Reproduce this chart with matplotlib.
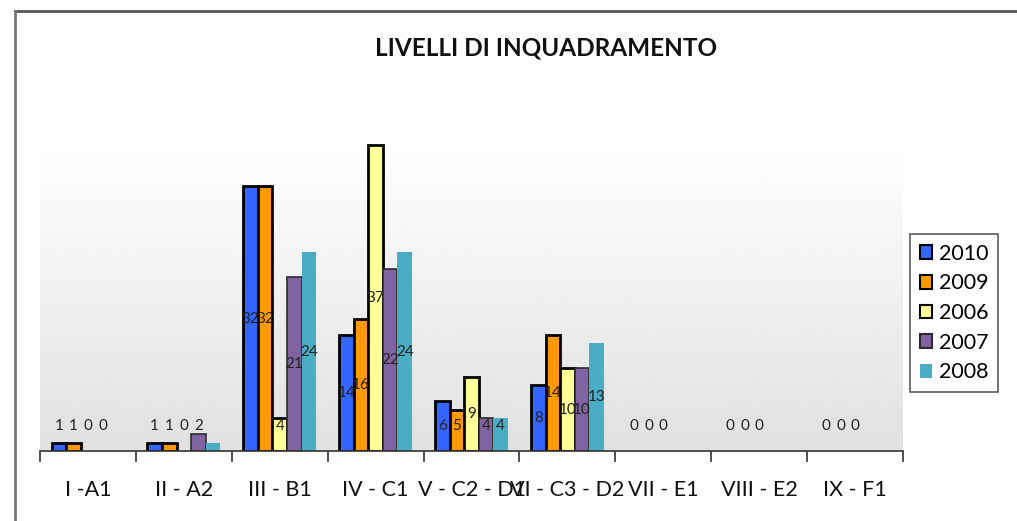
import numpy as np
import matplotlib

matplotlib.use("Agg")
import matplotlib.pyplot as plt
from matplotlib.patches import Patch
from matplotlib.lines import Line2D

plt.rcParams["font.family"] = ["Lato", "DejaVu Sans"]

# ── Data ──────────────────────────────────────────────────────────────────────
categories = ["I -A1", "II - A2", "III - B1", "IV - C1", "V - C2 - D1",
              "VI - C3 - D2", "VII - E1", "VIII - E2", "IX - F1"]
years = ["2010", "2009", "2006", "2007", "2008"]
v2010 = [1, 1, 32, 14, 6, 8, 0, 0, 0]
v2009 = [1, 1, 32, 16, 5, 14, 0, 0, 0]
v2006 = [0, 0, 4, 37, 9, 10, 0, 0, 0]
v2007 = [0, 2, 21, 22, 4, 10, None, None, None]
v2008 = [None, 1, 24, 24, 4, 13, None, None, None]
# labels shown on the chart (None = no label)
lab2008 = [None, None, 24, 24, 4, 13, None, None, None]

series = [v2010, v2009, v2006, v2007, v2008]
labels = [v2010, v2009, v2006, v2007, lab2008]
colors = ["#3366FF", "#FF9900", "#FFFF99", "#8064A2", "#4BACC6"]
edges = [("black", 2.0), ("black", 2.0), ("black", 2.0), ("#2b2b2b", 1.2), ("none", 0)]

# ── Figure ────────────────────────────────────────────────────────────────────
fig = plt.figure(figsize=(10.17, 5.21), dpi=100)
ax = fig.add_axes([40 / 1017, 1 - 451 / 521, 863 / 1017, 311 / 521])

# frame lines (top and left) of the chart object
fig.add_artist(Line2D([15 / 1017, 1], [1 - 11 / 521] * 2, color="#555555", lw=2))
fig.add_artist(Line2D([15 / 1017] * 2, [0, 1 - 11 / 521], color="#777777", lw=2))

ymax = 37.6
n = len(categories)
ax.set_xlim(-0.5, n - 0.5)
ax.set_ylim(0, ymax)

# gradient background
grad = np.linspace(0.88, 1.0, 256).reshape(-1, 1)
ax.imshow(grad, extent=[-0.5, n - 0.5, 0, ymax], origin="lower", aspect="auto",
          cmap="gray", vmin=0, vmax=1, zorder=0)

w = 0.152
x = np.arange(n)
for i, (vals, labs) in enumerate(zip(series, labels)):
    ec, lw = edges[i]
    xs = x + (i - 2) * w
    for xi, v, lab in zip(xs, vals, labs):
        if v is not None and v > 0:
            ax.bar(xi, v, width=w, color=colors[i], edgecolor=ec, linewidth=lw, zorder=2)
        if lab is not None:
            ax.text(xi, max(lab / 2, 3), str(lab), ha="center", va="center",
                    fontsize=11, color="#222222", zorder=3)

# axes styling
for s in ["top", "right", "left"]:
    ax.spines[s].set_visible(False)
ax.spines["bottom"].set_color("#333333")
ax.spines["bottom"].set_linewidth(1.2)
ax.set_yticks([])
ax.set_xticks(np.arange(n + 1) - 0.5, minor=False)
ax.set_xticklabels([])
ax.tick_params(axis="x", direction="out", length=8, width=1.2, color="#333333")
for xi, c in zip(x, categories):
    ax.text(xi, -39 / 311 * ymax, c, ha="center", va="center", fontsize=15.5,
            color="#111111", clip_on=False)

fig.text(546 / 1017, 1 - 48 / 521, "LIVELLI DI INQUADRAMENTO", ha="center",
         va="center", fontsize=17.5, fontweight="bold", color="#111111")

handles = [Patch(facecolor=colors[i], edgecolor=edges[i][0] if edges[i][0] != "none" else colors[i],
                 linewidth=1.5 if i < 4 else 0) for i in range(5)]
leg = fig.legend(handles, years, loc="center", bbox_to_anchor=(954 / 1017, 1 - 313 / 521),
                 fontsize=15.5, frameon=True, fancybox=False, edgecolor="#333333",
                 handlelength=0.6, handleheight=0.6, handletextpad=0.3,
                 labelspacing=0.45, borderpad=0.45)
leg.get_frame().set_linewidth(1.2)

fig.savefig("out.png", dpi=100, facecolor="white")
